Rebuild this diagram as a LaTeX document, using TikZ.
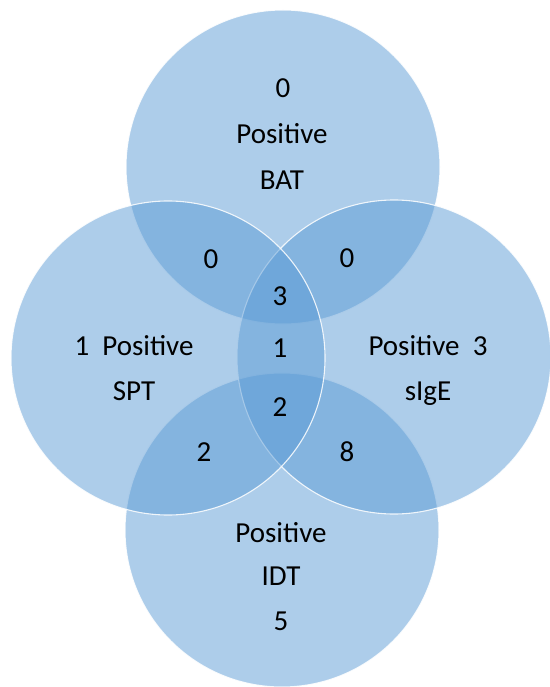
\documentclass[tikz,border=0pt]{standalone}
\usepackage{fontspec}
\setmainfont{Carlito}
\definecolor{accentblue}{HTML}{5B9BD5}
\begin{document}
\begin{tikzpicture}[x=1bp,y=-1bp,
  vset/.style={circle, inner sep=0pt, minimum size=314bp, fill=accentblue, fill opacity=0.5,
               draw=white, draw opacity=0.85, line width=1.1bp},
  lbl/.style={anchor=base, inner sep=0pt, text=black, font=\fontsize{29bp}{35bp}\selectfont}]
\useasboundingbox (0,0) rectangle (550,687);
% circles
\node[vset] (bat) at (283,167) {};
\node[vset] (idt) at (282,530) {};
\node[vset] (sige) at (394,357) {};
\node[vset] (spt) at (168,358) {};
% BAT labels
\node[lbl] (t0) at (283,98) {0};
\node[lbl] (t1) at (282,143) {Positive};
\node[lbl] (t2) at (282,189) {BAT};
% IDT labels
\node[lbl] (b0) at (281,542) {Positive};
\node[lbl] (b1) at (281,585) {IDT};
\node[lbl] (b2) at (281,630) {5};
% SPT labels
\node[lbl] (l0) at (134,355) {1~~Positive};
\node[lbl] (l1) at (134,400) {SPT};
% sIgE labels
\node[lbl] (r0) at (428,355) {Positive~~3};
\node[lbl] (r1) at (428,400) {sIgE};
% intersections
\node[lbl] (ibs) at (211,268) {0};
\node[lbl] (ibr) at (347,267) {0};
\node[lbl] (ic1) at (280,305) {3};
\node[lbl] (ic2) at (280,357) {1};
\node[lbl] (ic3) at (280,416) {2};
\node[lbl] (ils) at (204,461) {2};
\node[lbl] (irs) at (347,461) {8};
\end{tikzpicture}
\end{document}
